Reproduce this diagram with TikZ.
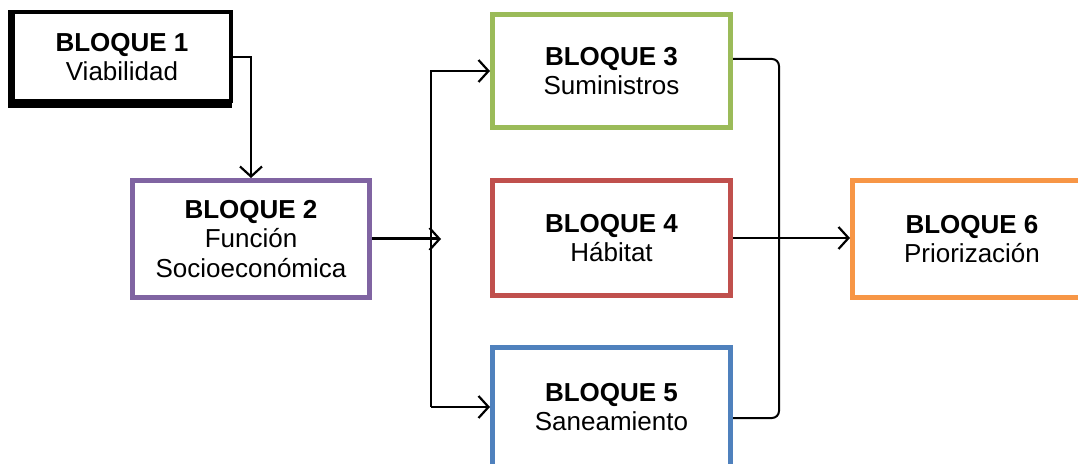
\documentclass[tikz,border=0pt]{standalone}
\usepackage{fontspec}
\setmainfont{Liberation Sans}
\usetikzlibrary{arrows.meta}
\definecolor{ogreen}{RGB}{155,187,89}
\definecolor{ored}{RGB}{192,80,77}
\definecolor{oblue}{RGB}{79,129,189}
\definecolor{opurple}{RGB}{128,100,162}
\definecolor{oorange}{RGB}{247,150,70}
\begin{document}
\begin{tikzpicture}[x=1pt,y=1pt,
  blockbox/.style={draw, line width=5pt, fill=white, align=center,
    inner sep=0pt, font=\fontsize{26}{29.5}\selectfont},
  link/.style={line width=2.2pt, -{Straight Barb[length=10pt,width=22pt,line width=2.2pt]}},
  joinline/.style={line width=2pt, rounded corners=7pt}]
\useasboundingbox (0,0) rectangle (1078,463);
% Block 1 with a slight offset shadow
\fill[black] (8,355) rectangle (232,453);
\node[blockbox, draw=black, line width=4pt, minimum width=218pt, minimum height=89pt] (b1) at (122,406)
  {\textbf{BLOQUE 1}\\Viabilidad};
\node[blockbox, draw=opurple, minimum width=237pt, minimum height=117pt] (b2) at (251,224)
  {\textbf{BLOQUE 2}\\Función\\Socioeconómica};
\node[blockbox, draw=ogreen, minimum width=238pt, minimum height=113pt] (b3) at (611.5,392)
  {\textbf{BLOQUE 3}\\Suministros};
\node[blockbox, draw=ored, minimum width=238pt, minimum height=115pt] (b4) at (611.5,225)
  {\textbf{BLOQUE 4}\\Hábitat};
\node[blockbox, draw=oblue, minimum width=238pt, minimum height=119pt] (b5) at (611.5,56)
  {\textbf{BLOQUE 5}\\Saneamiento};
\node[blockbox, draw=oorange, minimum width=239pt, minimum height=117pt] (b6) at (972,224)
  {\textbf{BLOQUE 6}\\Priorización};
% Block 1 to Block 2
\draw[link] (b1.east) -| (b2.north);
% Block 2 into the split
\coordinate (split) at (441,224);
\coordinate (trunk) at (431,0);
\draw[link, line width=3pt] (b2.east) -- (split);
\draw[link] (b5.west -| trunk) |- (b3.west);
\draw[link] (b5.west -| trunk) -- (b5.west);
% Blocks 3 to 5 joined and led to Block 6
\coordinate (rail) at (779,0);
\draw[joinline] ([yshift=12pt]b3.east) -| (rail |- b4.east) |- ([yshift=-11pt]b5.east);
\draw[link] (b4.east) -- (b4.east -| b6.west);
\end{tikzpicture}
\end{document}
